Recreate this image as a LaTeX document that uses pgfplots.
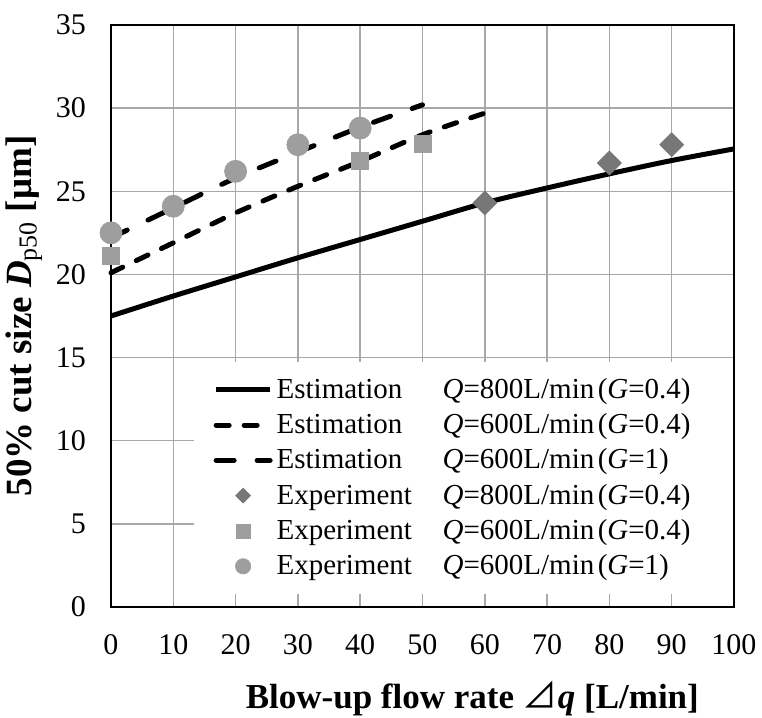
\documentclass[border=0pt]{standalone}
\usepackage{fontspec}
\setmainfont{Liberation Serif}
\newfontfamily\cjk{Noto Sans CJK JP}
\usepackage{pgfplots}
\pgfplotsset{compat=1.18}
\definecolor{gridgray}{HTML}{A8A8A8}
\definecolor{mkgray}{HTML}{9E9E9E}
\definecolor{dkgray}{HTML}{777777}
\newcommand{\ent}[2]{\makebox[216pt][l]{\makebox[83pt][l]{#1}#2}}
\begin{document}
\begin{tikzpicture}
\begin{axis}[name=ax, scale only axis, width=311.5pt, height=291pt,
  xmin=0, xmax=100, ymin=0, ymax=35,
  xtick={0,10,...,100}, ytick={0,5,...,35},
  grid=major, major grid style={gridgray, line width=0.75pt},
  axis line style={line width=1.3pt, black},
  major tick length=0pt,
  tick label style={font=\fontsize{15}{17}\selectfont},
  /pgf/number format/assume math mode=true,
  xticklabel style={yshift=-10pt}, yticklabel style={xshift=-9pt},
  xlabel={Blow-up flow rate {\cjk\mdseries ⊿}\textit{q} [L/min]},
  xlabel style={at={(axis description cs:0.58,-0.158)}, anchor=center, font=\fontsize{17.5}{19}\selectfont\bfseries},
  ylabel={50\% cut size \textit{D}\textsubscript{\mdseries p50} [μm]},
  ylabel style={at={(axis description cs:-0.14,0.5)}, anchor=center, font=\fontsize{18.5}{20}\selectfont\bfseries},
  clip=false,
  legend style={at={(axis cs:13.2,14.75)}, anchor=north west, draw=none, fill=white,
    font=\fontsize{14.5}{16}\selectfont, row sep=2.1pt, inner xsep=10pt, inner ysep=6pt},
  legend cell align=left,
  legend image code/.code={\draw[mark repeat=2,mark phase=2,#1] plot coordinates {(0pt,0pt) (13.5pt,0pt) (27pt,0pt)};},
]
% experiment markers (below lines)
\addplot[only marks, mark=*, mark size=5.5pt, mark options={fill=mkgray, draw=mkgray}, forget plot]
  coordinates {(0,22.5)(10,24.1)(20,26.2)(30,27.8)(40,28.8)};
\addplot[only marks, mark=square*, mark size=4.25pt, mark options={fill=mkgray, draw=mkgray}, forget plot]
  coordinates {(0,21.1)(40,26.85)(50,27.85)};
% estimation lines
\addplot[black, line width=2.5pt, line cap=round, dash pattern=on 9pt off 11.5pt, smooth, forget plot]
  coordinates {(0,22.2)(10,24.0)(20,25.8)(30,27.35)(40,28.85)(50,30.2)};
\addplot[black, line width=2.5pt, line cap=round, dash pattern=on 6.5pt off 7.5pt, smooth, forget plot]
  coordinates {(0,20.1)(10,21.9)(20,23.7)(30,25.3)(40,26.8)(50,28.4)(60,29.7)};
\addplot[black, line width=2.5pt, smooth, forget plot]
  coordinates {(0,17.5)(10,18.7)(20,19.85)(30,21.0)(40,22.1)(50,23.2)(60,24.3)(70,25.2)(80,26.05)(90,26.85)(100,27.55)};
\addplot[only marks, mark=square*, mark size=4.2pt, mark options={rotate=45, fill=dkgray, draw=dkgray}, forget plot]
  coordinates {(60,24.3)(80,26.7)(90,27.8)};
% legend
\addlegendimage{black, line width=2.5pt}
\addlegendentry{\ent{Estimation}{\textit{Q}=800L/min\hspace{0.12em}(\textit{G}=0.4)}}
\addlegendimage{black, line width=2.5pt, line cap=round, dash pattern=on 6.5pt off 7.5pt}
\addlegendentry{\ent{Estimation}{\textit{Q}=600L/min\hspace{0.12em}(\textit{G}=0.4)}}
\addlegendimage{black, line width=2.5pt, line cap=round, dash pattern=on 9pt off 11.5pt}
\addlegendentry{\ent{Estimation}{\textit{Q}=600L/min\hspace{0.12em}(\textit{G}=1)}}
\addlegendimage{only marks, mark=square*, mark size=2.6pt, mark options={rotate=45, fill=dkgray, draw=dkgray}}
\addlegendentry{\ent{Experiment}{\textit{Q}=800L/min\hspace{0.12em}(\textit{G}=0.4)}}
\addlegendimage{only marks, mark=square*, mark size=3.5pt, mark options={fill=mkgray, draw=mkgray}}
\addlegendentry{\ent{Experiment}{\textit{Q}=600L/min\hspace{0.12em}(\textit{G}=0.4)}}
\addlegendimage{only marks, mark=*, mark size=3.8pt, mark options={fill=mkgray, draw=mkgray}}
\addlegendentry{\ent{Experiment}{\textit{Q}=600L/min\hspace{0.12em}(\textit{G}=1)}}
\end{axis}
\pgfresetboundingbox
\path ([xshift=-55.5pt,yshift=-55.5pt]ax.south west) rectangle ([xshift=14pt,yshift=12.5pt]ax.north east);
\end{tikzpicture}
\end{document}
